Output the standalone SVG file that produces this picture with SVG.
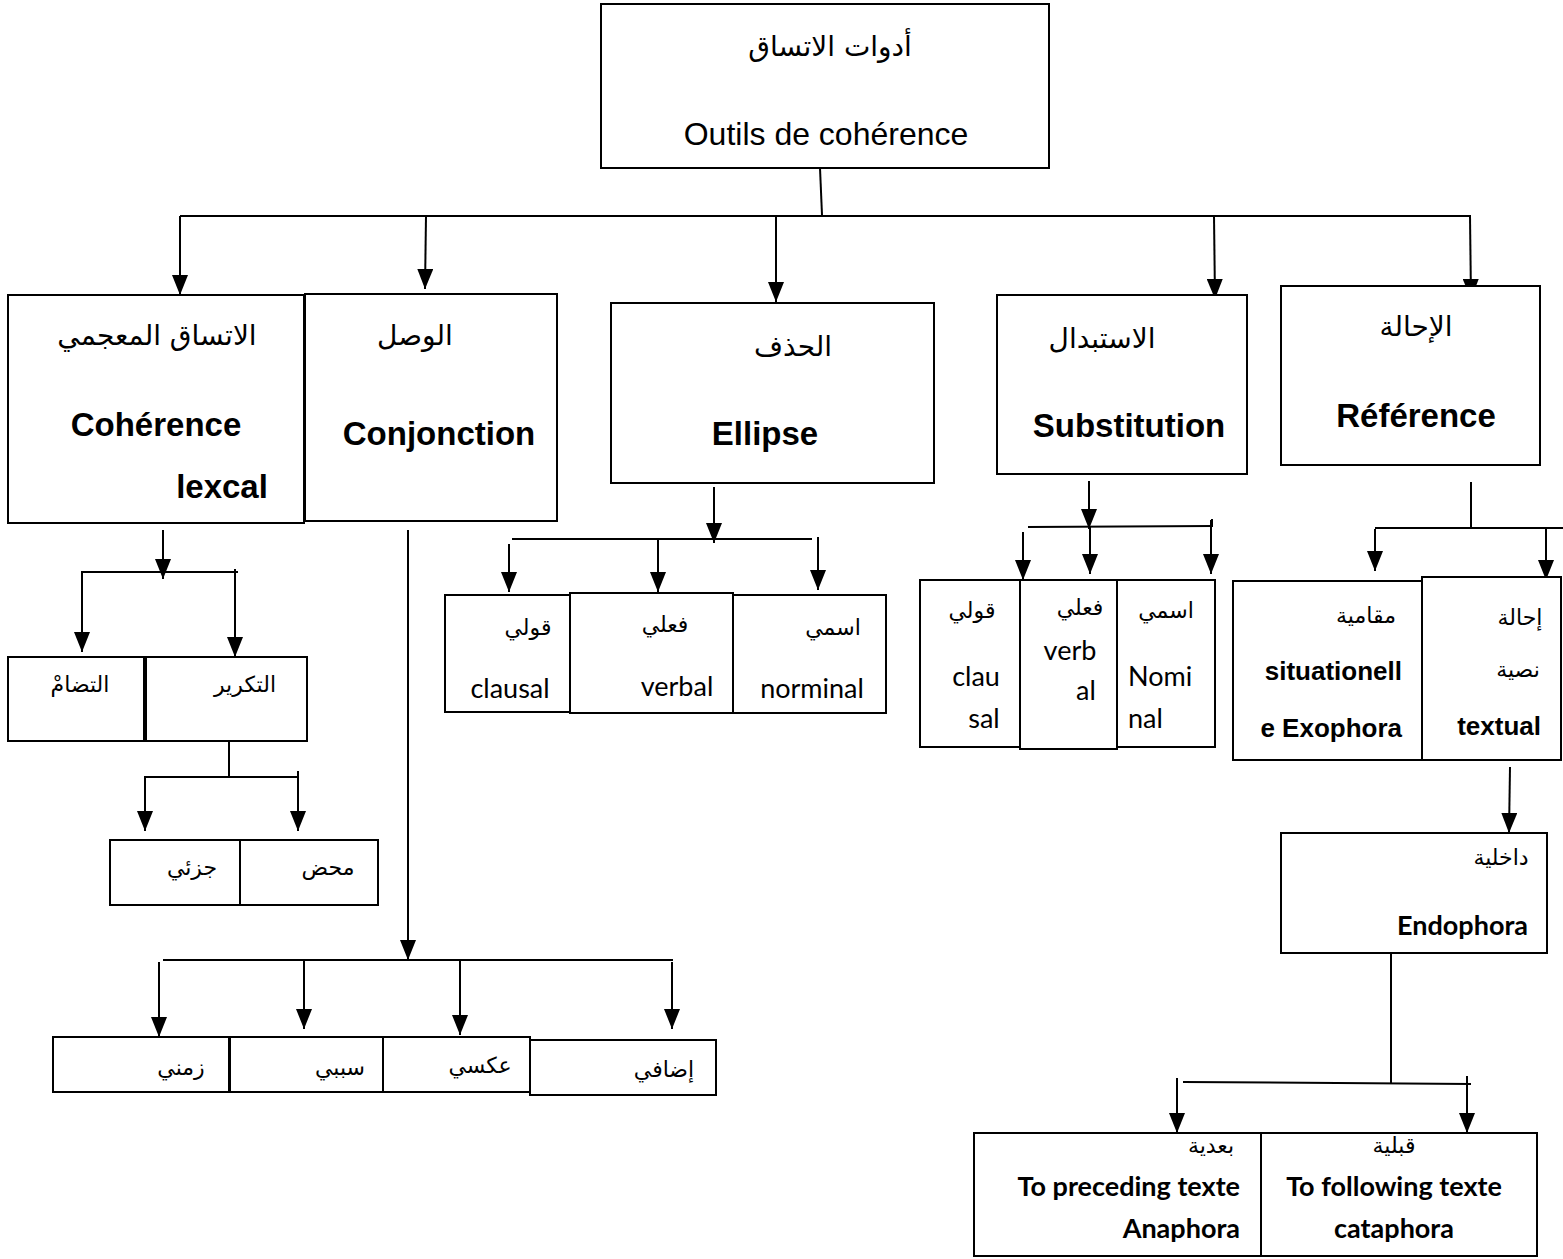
<svg xmlns="http://www.w3.org/2000/svg" width="1563" height="1259" viewBox="0 0 1563 1259">
<style>
.box{fill:#fff;stroke:#000;stroke-width:2}
.ln{stroke:#000;stroke-width:2;fill:none}
.ar{stroke:#000;stroke-width:2;fill:none;marker-end:url(#ah)}
.arL{font-family:"DejaVu Sans","Noto Sans",sans-serif;fill:#000;text-anchor:middle}
.big{font-size:28px}
.sm{font-size:22px}
.bold{font-family:"Liberation Sans",Arial,sans-serif;font-weight:bold;font-size:33px;fill:#000;text-anchor:middle}
.bsm{font-family:"Liberation Sans",Arial,sans-serif;font-weight:bold;font-size:26px;fill:#000}
.cal{font-family:Lato,"Open Sans",sans-serif;font-size:27px;fill:#000}
.calb{font-family:Lato,"Open Sans",sans-serif;font-weight:bold;font-size:27px;fill:#000}
</style>
<defs>
<marker id="ah" markerUnits="userSpaceOnUse" markerWidth="20" markerHeight="16" refX="20" refY="8" orient="auto">
<path d="M0,0 L20,8 L0,16 z" fill="#000"/>
</marker>
</defs>
<rect width="1563" height="1259" fill="#fff"/>

<g id="connectors">
<line class="ln" x1="820" y1="168" x2="822" y2="215"/>
<line class="ln" x1="180" y1="216" x2="1471" y2="216"/>
<line class="ar" x1="180" y1="216" x2="180" y2="295"/>
<line class="ar" x1="426" y1="216" x2="425" y2="289"/>
<line class="ar" x1="776" y1="216" x2="776" y2="302"/>
<line class="ar" x1="1214" y1="216" x2="1215" y2="299"/>
<line class="ar" x1="1470" y1="216" x2="1471" y2="299"/>

<line class="ar" x1="163" y1="530" x2="163" y2="579"/>
<line class="ln" x1="83" y1="572" x2="238" y2="572"/>
<line class="ar" x1="82" y1="571" x2="82" y2="652"/>
<line class="ar" x1="235" y1="569" x2="235" y2="657"/>
<line class="ln" x1="229" y1="724" x2="229" y2="777"/>
<line class="ln" x1="145" y1="777" x2="299" y2="777"/>
<line class="ar" x1="145" y1="776" x2="145" y2="831"/>
<line class="ar" x1="298" y1="771" x2="298" y2="831"/>

<line class="ar" x1="408" y1="530" x2="408" y2="960"/>
<line class="ln" x1="163" y1="960" x2="673" y2="960"/>
<line class="ar" x1="159" y1="962" x2="159" y2="1037"/>
<line class="ar" x1="304" y1="961" x2="304" y2="1029"/>
<line class="ar" x1="460" y1="960" x2="460" y2="1035"/>
<line class="ar" x1="672" y1="962" x2="672" y2="1029"/>

<line class="ar" x1="714" y1="487" x2="714" y2="543"/>
<line class="ln" x1="512" y1="539" x2="812" y2="539"/>
<line class="ar" x1="509" y1="544" x2="509" y2="592"/>
<line class="ar" x1="658" y1="539" x2="658" y2="592"/>
<line class="ar" x1="818" y1="537" x2="818" y2="590"/>

<line class="ar" x1="1089" y1="481" x2="1089" y2="529"/>
<line class="ln" x1="1028" y1="527" x2="1213" y2="526"/>
<line class="ln" x1="1212" y1="519" x2="1212" y2="527"/>
<line class="ar" x1="1023" y1="532" x2="1023" y2="580"/>
<line class="ar" x1="1090" y1="527" x2="1090" y2="574"/>
<line class="ar" x1="1211" y1="520" x2="1211" y2="574"/>

<line class="ln" x1="1471" y1="482" x2="1471" y2="528"/>
<line class="ln" x1="1375" y1="528" x2="1563" y2="528"/>
<line class="ar" x1="1375" y1="529" x2="1375" y2="571"/>
<line class="ar" x1="1546" y1="528" x2="1546" y2="580"/>
<line class="ar" x1="1510" y1="767" x2="1509" y2="833"/>

<line class="ln" x1="1391" y1="953" x2="1391" y2="1083"/>
<line class="ln" x1="1183" y1="1082" x2="1471" y2="1084"/>
<line class="ar" x1="1177" y1="1078" x2="1177" y2="1133"/>
<line class="ar" x1="1467" y1="1076" x2="1467" y2="1133"/>
</g>

<g id="root">
<rect class="box" x="601" y="4" width="448" height="164"/>
<text class="arL big" x="830" y="56">أدوات الاتساق</text>
<text x="826" y="145" font-family="Liberation Sans,Arial,sans-serif" font-size="32" text-anchor="middle">Outils de cohérence</text>
</g>

<g id="lexical">
<rect class="box" x="8" y="295" width="296" height="228"/>
<text class="arL big" x="157" y="345">الاتساق المعجمي</text>
<text class="bold" x="156" y="436">Cohérence</text>
<text class="bold" x="222" y="498">lexcal</text>
</g>

<g id="conjonction">
<rect class="box" x="305" y="294" width="252" height="227"/>
<text class="arL big" x="415" y="345">الوصل</text>
<text class="bold" x="439" y="445">Conjonction</text>
</g>

<g id="ellipse">
<rect class="box" x="611" y="303" width="323" height="180"/>
<text class="arL big" x="793" y="356">الحذف</text>
<text class="bold" x="765" y="445">Ellipse</text>
</g>

<g id="substitution">
<rect class="box" x="997" y="295" width="250" height="179"/>
<text class="arL big" x="1102" y="348">الاستبدال</text>
<text class="bold" x="1129" y="437">Substitution</text>
</g>

<g id="reference">
<rect class="box" x="1281" y="286" width="259" height="179"/>
<text class="arL big" x="1416" y="336">الإحالة</text>
<text class="bold" x="1416" y="427">Référence</text>
</g>

<g id="tadam">
<rect class="box" x="8" y="657" width="136" height="84"/>
<text class="arL sm" x="80" y="692">التضامْ</text>
</g>
<g id="takrir">
<rect class="box" x="146" y="657" width="161" height="84"/>
<text class="arL sm" x="245" y="692">التكرير</text>
</g>
<g id="juzi">
<rect class="box" x="110" y="840" width="130" height="65"/>
<text class="arL sm" x="192" y="875">جزئي</text>
</g>
<g id="mahd">
<rect class="box" x="240" y="840" width="138" height="65"/>
<text class="arL sm" x="328" y="875">محض</text>
</g>

<g id="zamani">
<rect class="box" x="53" y="1037" width="176" height="55"/>
<text class="arL sm" x="181" y="1075">زمني</text>
</g>
<g id="sababi">
<rect class="box" x="230" y="1037" width="153" height="55"/>
<text class="arL sm" x="340" y="1075">سببي</text>
</g>
<g id="aksi">
<rect class="box" x="383" y="1037" width="147" height="55"/>
<text class="arL sm" x="480" y="1073">عكسي</text>
</g>
<g id="idafi">
<rect class="box" x="530" y="1040" width="186" height="55"/>
<text class="arL sm" x="664" y="1077">إضافي</text>
</g>

<g id="ell-qawli">
<rect class="box" x="445" y="595" width="125" height="117"/>
<text class="arL sm" x="528" y="635">قولي</text>
<text class="cal" x="510" y="698" text-anchor="middle">clausal</text>
</g>
<g id="ell-fili">
<rect class="box" x="570" y="593" width="163" height="120"/>
<text class="arL sm" x="665" y="632">فعلي</text>
<text class="cal" x="677" y="696" text-anchor="middle">verbal</text>
</g>
<g id="ell-ismi">
<rect class="box" x="733" y="595" width="153" height="118"/>
<text class="arL sm" x="833" y="635">اسمي</text>
<text class="cal" x="812" y="698" text-anchor="middle">norminal</text>
</g>

<g id="sub-qawli">
<rect class="box" x="920" y="580" width="100" height="167"/>
<text class="arL sm" x="972" y="618">قولي</text>
<text class="cal" x="976" y="686" text-anchor="middle">clau</text>
<text class="cal" x="984" y="728" text-anchor="middle">sal</text>
</g>
<g id="sub-fili">
<rect class="box" x="1020" y="580" width="97" height="169"/>
<text class="arL sm" x="1080" y="615">فعلي</text>
<text class="cal" x="1070" y="660" text-anchor="middle">verb</text>
<text class="cal" x="1086" y="700" text-anchor="middle">al</text>
</g>
<g id="sub-ismi">
<rect class="box" x="1117" y="580" width="98" height="167"/>
<text class="arL sm" x="1166" y="618">اسمي</text>
<text class="cal" x="1128" y="686">Nomi</text>
<text class="cal" x="1128" y="728">nal</text>
</g>

<g id="exophora">
<rect class="box" x="1233" y="581" width="189" height="179"/>
<text class="arL sm" x="1366" y="623">مقامية</text>
<text class="bsm" x="1402" y="680" text-anchor="end">situationell</text>
<text class="bsm" x="1402" y="737" text-anchor="end">e Exophora</text>
</g>
<g id="textual">
<rect class="box" x="1422" y="577" width="139" height="183"/>
<text class="arL sm" x="1520" y="625">إحالة</text>
<text class="arL sm" x="1518" y="677">نصية</text>
<text class="bsm" x="1541" y="735" text-anchor="end">textual</text>
</g>

<g id="endophora">
<rect class="box" x="1281" y="833" width="266" height="120"/>
<text class="arL sm" x="1501" y="865">داخلية</text>
<text class="calb" x="1528" y="935" text-anchor="end">Endophora</text>
</g>

<g id="anaphora">
<rect class="box" x="974" y="1133" width="287" height="123"/>
<text class="arL sm" x="1211" y="1153">بعدية</text>
<text class="calb" x="1240" y="1196" text-anchor="end">To preceding texte</text>
<text class="calb" x="1240" y="1238" text-anchor="end">Anaphora</text>
</g>
<g id="cataphora">
<rect class="box" x="1261" y="1133" width="276" height="123"/>
<text class="arL sm" x="1394" y="1153">قبلية</text>
<text class="calb" x="1394" y="1196" text-anchor="middle">To following texte</text>
<text class="calb" x="1394" y="1238" text-anchor="middle">cataphora</text>
</g>
</svg>
